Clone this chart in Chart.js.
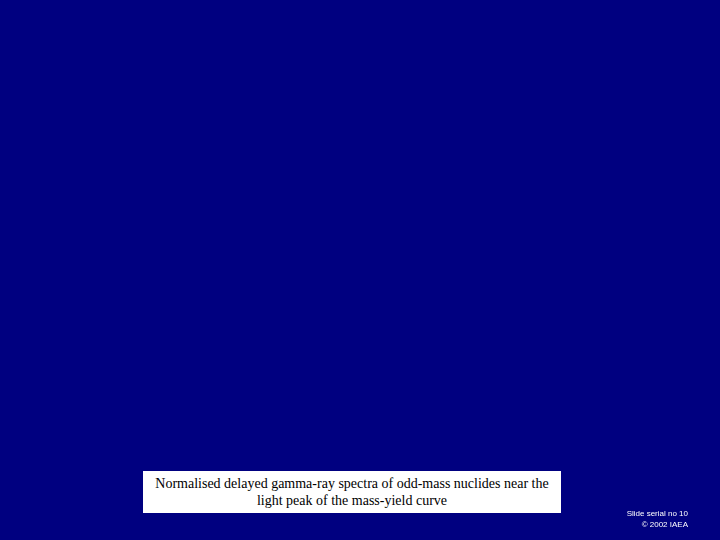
<!DOCTYPE html>
<html>
<head>
<meta charset="utf-8">
<script src="https://cdn.jsdelivr.net/npm/chart.js@4/dist/chart.umd.min.js"></script>
<style>
  html, body { margin: 0; padding: 0; background: #000080; }
  #wrap { position: relative; width: 720px; height: 540px; background: #000080; overflow: hidden; }
  #c { position: absolute; left: 0; top: 0; width: 720px; height: 540px; }
  #caption {
    position: absolute; left: 143px; top: 471px; width: 418px; height: 42px;
    background: #ffffff; color: #000000; box-sizing: border-box;
    font-family: "Liberation Serif", "Times New Roman", serif; font-size: 14px;
    line-height: 17px; text-align: center; padding-top: 4px;
  }
  #serial {
    position: absolute; right: 32px; top: 508px; color: #ffffff;
    font-family: "Liberation Sans", Arial, sans-serif; font-size: 8px; line-height: 11px; text-align: right;
  }
</style>
</head>
<body>
<div id="wrap">
  <canvas id="c" width="720" height="540"></canvas>
  <div id="caption">Normalised delayed gamma-ray spectra of odd-mass nuclides near the<br>light peak of the mass-yield curve</div>
  <div id="serial">Slide serial no 10<br>© 2002 IAEA</div>
</div>
<script>
// The reference slide shows no plotted data (chart area is empty).
const categories = [];
const seriesValues = [];
const tickLabels = [];

new Chart(document.getElementById('c'), {
  type: 'line',
  data: {
    labels: categories,
    datasets: [{ label: 'spectrum', data: seriesValues, borderColor: '#ffffff' }]
  },
  options: {
    responsive: false,
    animation: false,
    plugins: { legend: { display: false }, tooltip: { enabled: false } },
    scales: {
      x: { display: false },
      y: { display: false }
    }
  }
});
</script>
</body>
</html>
